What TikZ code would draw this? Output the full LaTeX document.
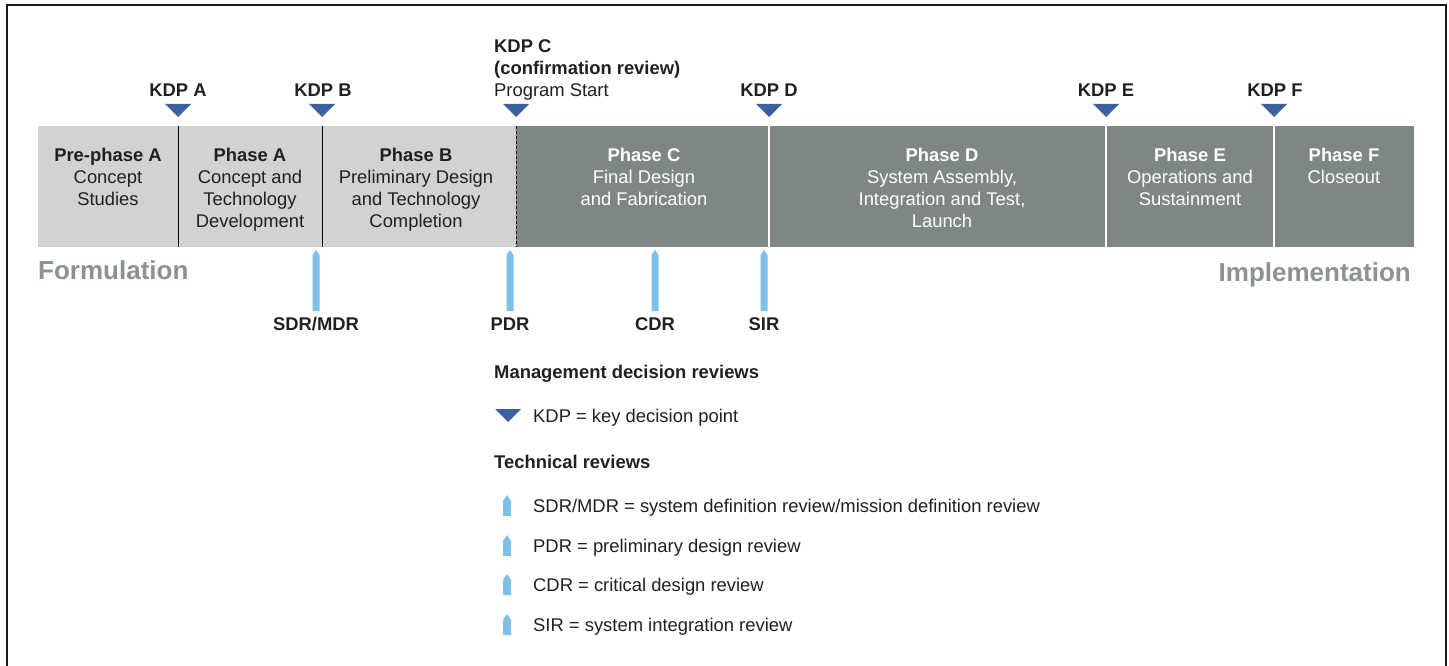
\documentclass[tikz,border=0pt]{standalone}
\usepackage{fontspec}
\setmainfont{Liberation Sans}
\definecolor{barlight}{HTML}{D1D2D3}
\definecolor{bardark}{HTML}{7F8786}
\definecolor{kdpblue}{HTML}{3A62A0}
\definecolor{revblue}{HTML}{7DC1E7}
\definecolor{txtdark}{HTML}{231F20}
\definecolor{sidegray}{HTML}{8A9393}
\definecolor{framecol}{HTML}{1A1A1A}
\tikzset{
  base18/.style={inner sep=0pt, text=txtdark, font=\fontsize{18.4}{22}\selectfont},
  kdplbl/.style={base18, anchor=base, font=\bfseries\fontsize{18.4}{22}\selectfont},
  phasetxt/.style={base18, anchor=north, align=center},
  phasedark/.style={phasetxt, text=white},
  revlbl/.style={kdplbl},
  sidelbl/.style={inner sep=0pt, text=sidegray, font=\bfseries\fontsize{26}{30}\selectfont},
  legtitle/.style={base18, anchor=base west, font=\bfseries\fontsize{18.4}{22}\selectfont},
  legtxt/.style={base18, anchor=base west},
  kdpmark/.pic={\fill[kdpblue] (0,0) -- (-13,-13) -- (13,-13) -- cycle;},
  revmark/.pic={\fill[revblue] (0,0) -- (3.5,5) -- (3.5,61) -- (-3.5,61) -- (-3.5,5) -- cycle;},
  revicon/.pic={\fill[revblue] (0,0) -- (4,6) -- (4,21) -- (-4,21) -- (-4,6) -- cycle;},
}
\begin{document}
\begin{tikzpicture}[x=1pt,y=-1pt]
\useasboundingbox (0,0) rectangle (1449,666);
\clip (0,0) rectangle (1449,666);
\draw[line width=2pt, framecol] (6.5,5.5) rectangle (1446,700);

% bar
\fill[barlight] (38,126) rectangle (516,247);
\fill[bardark] (516,126) rectangle (1414,247);
\draw[black, line width=1pt] (178,126) -- (178,247);
\draw[black, line width=1pt] (322,126) -- (322,247);
\draw[black, line width=1pt, dash pattern=on 3pt off 2pt] (516,126) -- (516,247);
\draw[white, line width=2pt] (769,126) -- (769,247);
\draw[white, line width=2pt] (1106,126) -- (1106,247);
\draw[white, line width=2pt] (1274,126) -- (1274,247);

% phases
\node[phasetxt] (pre) at (108,148.3) {\textbf{Pre-phase A}\\Concept\\Studies};
\node[phasetxt] (pa) at (250,148.3) {\textbf{Phase A}\\Concept and\\Technology\\Development};
\node[phasetxt] (pb) at (416,148.3) {\textbf{Phase B}\\Preliminary Design\\and Technology\\Completion};
\node[phasedark] (pc) at (644,148.3) {\textbf{Phase C}\\Final Design\\and Fabrication};
\node[phasedark] (pd) at (942,148.3) {\textbf{Phase D}\\System Assembly,\\Integration and Test,\\Launch};
\node[phasedark] (pe) at (1190,148.3) {\textbf{Phase E}\\Operations and\\Sustainment};
\node[phasedark] (pf) at (1344,148.3) {\textbf{Phase F}\\Closeout};

% KDPs
\node[kdplbl] (ka) at (178,96.5) {KDP A};
\node[kdplbl] (kb) at (323,96.5) {KDP B};
\node[kdplbl, anchor=base west] (kc) at (494,52.5) {KDP C};
\node[kdplbl, anchor=base west] (kc2) at (494,75) {(confirmation review)};
\node[base18, anchor=base west] (kc3) at (494,97) {Program Start};
\node[kdplbl] (kd) at (769,96.5) {KDP D};
\node[kdplbl] (ke) at (1106,96.5) {KDP E};
\node[kdplbl] (kf) at (1275,96.5) {KDP F};
\pic at (178,117) {kdpmark};
\pic at (322,117) {kdpmark};
\pic at (516,117) {kdpmark};
\pic at (769,117) {kdpmark};
\pic at (1106,117) {kdpmark};
\pic at (1274,117) {kdpmark};

% technical reviews
\pic at (316,250) {revmark};
\pic at (510,250) {revmark};
\pic at (655,250) {revmark};
\pic at (764,250) {revmark};
\node[revlbl] (sdr) at (316,330.5) {SDR/MDR};
\node[revlbl] (pdr) at (510,330.5) {PDR};
\node[revlbl] (cdr) at (655,330.5) {CDR};
\node[revlbl] (sir) at (764,330.5) {SIR};

% side labels
\node[sidelbl, anchor=base west] (form) at (38,279) {Formulation};
\node[sidelbl, anchor=base east] (impl) at (1411,281) {Implementation};

% legend
\node[legtitle] (mdr) at (494,378.5) {Management decision reviews};
\pic at (508,422) {kdpmark};
\node[legtxt] (lk) at (533,422.5) {KDP = key decision point};
\node[legtitle] (tr) at (494,468.5) {Technical reviews};
\pic at (507,495) {revicon};
\node[legtxt] (l1) at (533,512.5) {SDR/MDR = system definition review/mission definition review};
\pic at (507,535) {revicon};
\node[legtxt] (l2) at (533,552.5) {PDR = preliminary design review};
\pic at (507,574) {revicon};
\node[legtxt] (l3) at (533,591.5) {CDR = critical design review};
\pic at (507,614) {revicon};
\node[legtxt] (l4) at (533,631.5) {SIR = system integration review};
\end{tikzpicture}
\end{document}
